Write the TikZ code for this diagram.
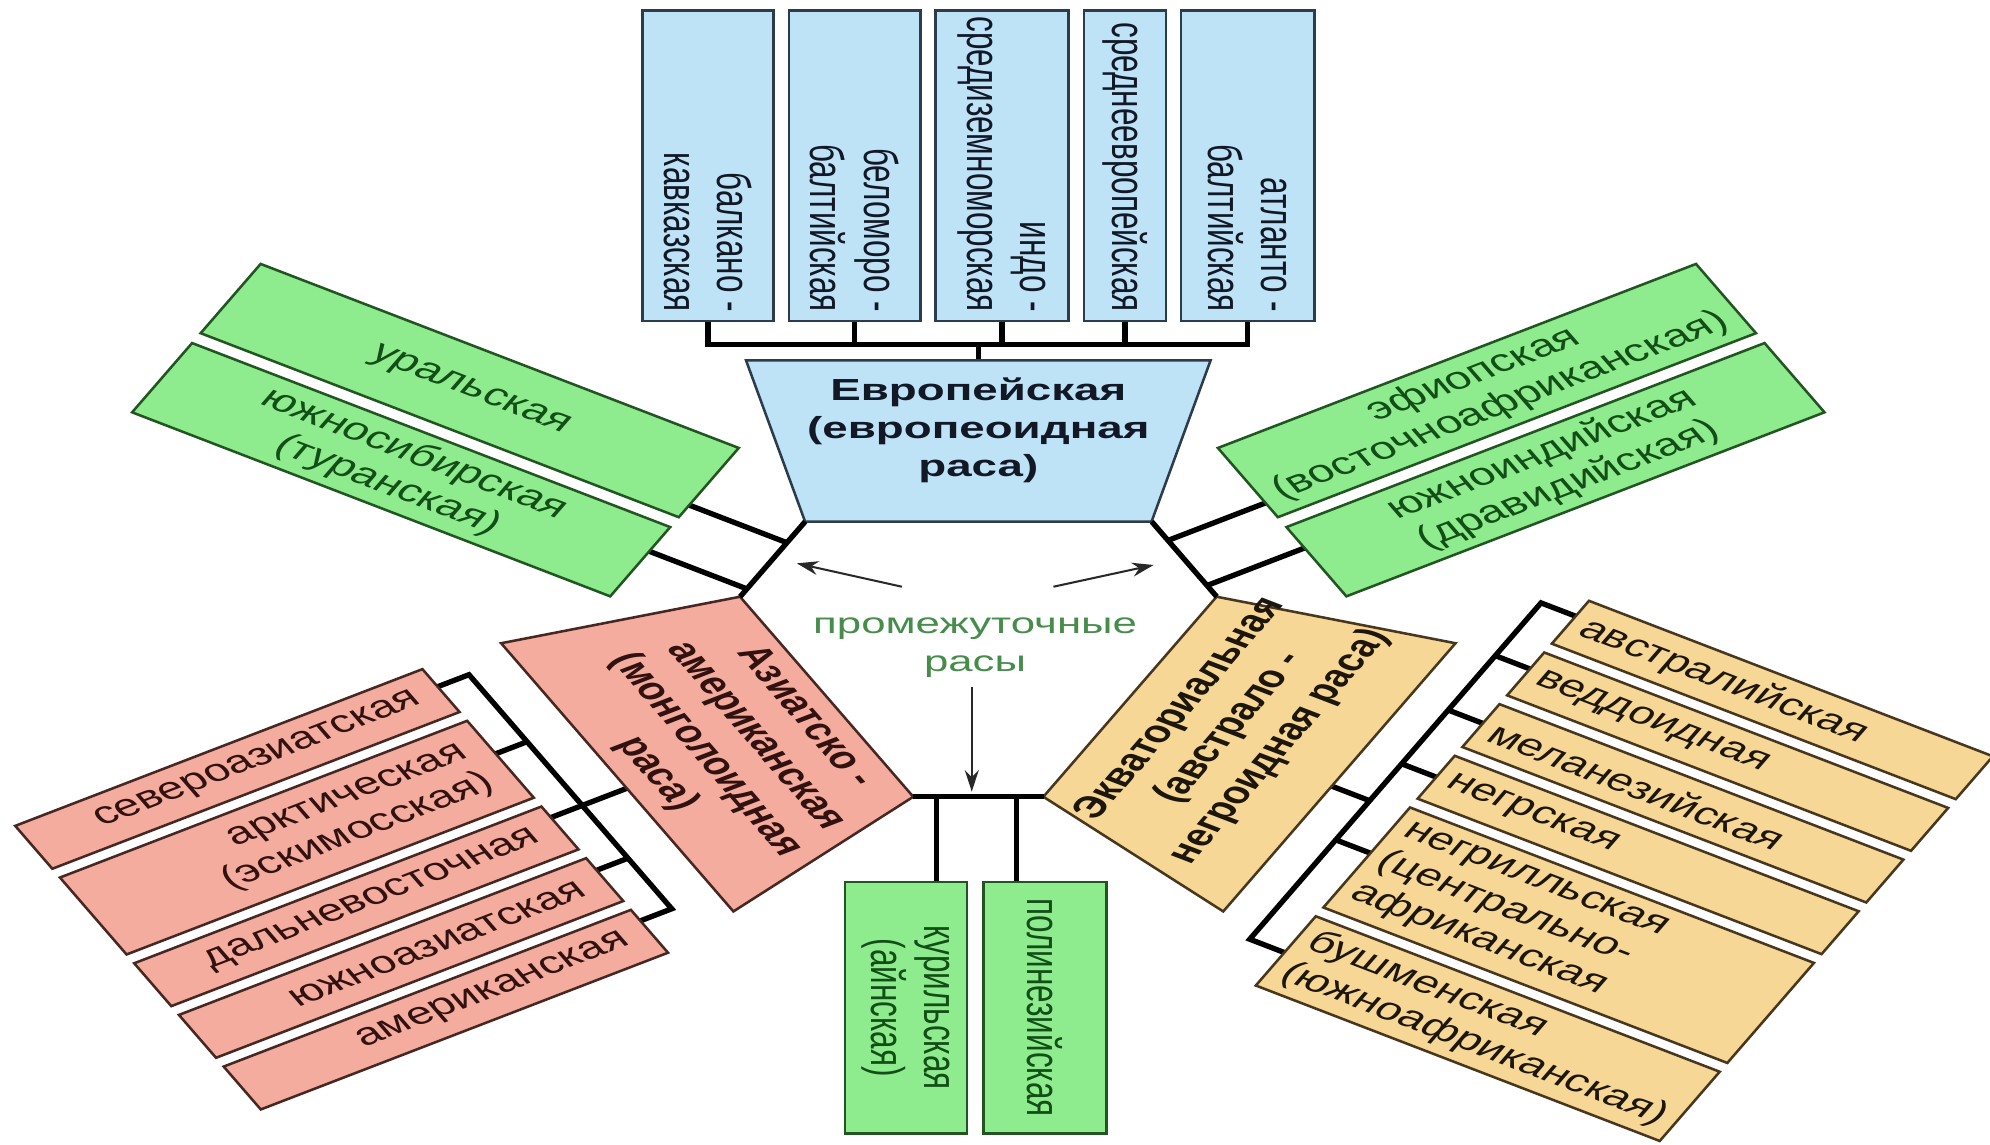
\documentclass[tikz,border=0pt]{standalone}
\usepackage{fontspec}
\setmainfont{Liberation Sans}
\usetikzlibrary{arrows.meta}
\definecolor{bfill}{RGB}{190,226,246}
\definecolor{bline}{RGB}{45,60,75}
\definecolor{btext}{RGB}{18,24,38}
\definecolor{gfill}{RGB}{142,236,142}
\definecolor{gline}{RGB}{35,85,35}
\definecolor{gtext}{RGB}{18,78,22}
\definecolor{pfill}{RGB}{244,172,158}
\definecolor{pline}{RGB}{70,40,35}
\definecolor{ptext}{RGB}{50,18,16}
\definecolor{yfill}{RGB}{247,215,150}
\definecolor{yline}{RGB}{70,55,30}
\definecolor{ytext}{RGB}{28,22,12}
\definecolor{lblgreen}{RGB}{70,140,75}
\definecolor{arrowgray}{RGB}{40,40,40}
\begin{document}
\begin{tikzpicture}[x=1pt,y=1pt,xscale=1.5,transform shape,
  conn/.style={line width=4.2pt,black,line join=miter},
  rbox/.style={draw,line width=2pt,inner sep=0pt},
  bluebox/.style={rbox,draw=bline,fill=bfill},
  greenbox/.style={rbox,draw=gline,fill=gfill,text=gtext,font=\fontsize{24.8}{28}\selectfont,align=center},
  pinkbox/.style={rbox,draw=pline,fill=pfill},
  yelbox/.style={rbox,draw=yline,fill=yfill},
  rtxt/.style={inner ysep=0pt,font=\fontsize{24.8}{28}\selectfont},
  btxt/.style={inner sep=0pt,font=\bfseries\fontsize{24}{30}\selectfont,align=center},
  arr/.style={line width=1.6pt,arrowgray,-{Stealth[length=17pt,width=11pt]}}]
\fill[white] (0,0) rectangle (1045.333,902);
\useasboundingbox (0,0) rectangle (1045.333,902);

% ---------- Europe ----------
\begin{scope}[shift={(513.9,399)}]
  \draw[conn] (0,217) -- (0,231.5);
  \draw[conn] (-142,252) -- (-142,231.5) -- (141.5,231.5) -- (141.5,252);
  \foreach \p in {-65,12.5,77} \draw[conn] (\p,231.5) -- (\p,252);
  \draw[rbox,draw=bline,fill=bfill] (-91,92) coordinate (EuIL) -- (91,92) coordinate (EuIR)
     -- (122,219) coordinate (EuOR) -- (-122,219) coordinate (EuOL) -- cycle;
  \node[btxt,text=btext] (EuT) at (0,164) {Европейская\\(европеоидная\\раса)};
  \node[bluebox,minimum width=244.6pt,minimum height=69pt,rotate=-90] (B1) at (-142,372.3) {};
  \node[bluebox,minimum width=244.6pt,minimum height=69pt,rotate=-90] (B2) at (-65,372.3) {};
  \node[bluebox,minimum width=244.6pt,minimum height=70pt,rotate=-90] (B3) at (12.5,372.3) {};
  \node[bluebox,minimum width=244.6pt,minimum height=43pt,rotate=-90] (B4) at (77,372.3) {};
  \node[bluebox,minimum width=244.6pt,minimum height=70pt,rotate=-90] (B5) at (141.5,372.3) {};
  \node[rtxt,text=btext,rotate=-90,anchor=east,align=right,inner xsep=8pt] (B1t) at (B1.east) {балкано -\\кавказская};
  \node[rtxt,text=btext,rotate=-90,anchor=east,align=right,inner xsep=8pt] (B2t) at (B2.east) {беломоро -\\балтийская};
  \node[rtxt,text=btext,rotate=-90,anchor=east,align=right,inner xsep=8pt] (B3t) at (B3.east) {индо -\\средиземноморская};
  \node[rtxt,text=btext,rotate=-90,anchor=east,align=right,inner xsep=8pt] (B4t) at (B4.east) {среднеевропейская};
  \node[rtxt,text=btext,rotate=-90,anchor=east,align=right,inner xsep=8pt] (B5t) at (B5.east) {атланто -\\балтийская};
\end{scope}

% ---------- Asian-American ----------
\begin{scope}[shift={(513.9,399)},rotate=120]
  \draw[conn] (109,267) -- (109,246) -- (-104,246) -- (-104,267);
  \foreach \p in {48,-58} \draw[conn] (\p,246) -- (\p,267);
  \draw[conn] (-10,217) -- (-10,267);
  \draw[rbox,draw=pline,fill=pfill] (-91,92) coordinate (AsIL) -- (91,92) coordinate (AsIR)
     -- (122,219) -- (-122,219) -- cycle;
  \node[btxt,text=ptext,rotate=180] (AsT) at (-8,155) {Азиатско -\\американская\\(монголоидная\\раса)};
  \node[pinkbox,minimum width=247pt,minimum height=39pt,rotate=-90] (P1) at (105.5,388.5) {};
  \node[pinkbox,minimum width=247pt,minimum height=70pt,rotate=-90] (P2) at (43,388.5) {};
  \node[pinkbox,minimum width=247pt,minimum height=39pt,rotate=-90] (P3) at (-19.5,388.5) {};
  \node[pinkbox,minimum width=247pt,minimum height=39pt,rotate=-90] (P4) at (-66.5,388.5) {};
  \node[pinkbox,minimum width=247pt,minimum height=39pt,rotate=-90] (P5) at (-113.5,388.5) {};
  \node[rtxt,text=ptext,rotate=-90,anchor=east,align=right,inner xsep=14pt] (P1t) at (P1.east) {североазиатская};
  \node[rtxt,text=ptext,rotate=-90,anchor=east,align=right,inner xsep=14pt] (P2t) at (P2.east) {арктическая\\(эскимосская)};
  \node[rtxt,text=ptext,rotate=-90,anchor=east,align=right,inner xsep=14pt] (P3t) at (P3.east) {дальневосточная};
  \node[rtxt,text=ptext,rotate=-90,anchor=east,align=right,inner xsep=14pt] (P4t) at (P4.east) {южноазиатская};
  \node[rtxt,text=ptext,rotate=-90,anchor=east,align=right,inner xsep=14pt] (P5t) at (P5.east) {американская};
\end{scope}

% ---------- Equatorial ----------
\begin{scope}[shift={(513.9,399)},rotate=-120]
  \draw[conn] (-172,265) -- (-172,242) -- (134,242) -- (134,265);
  \foreach \p in {-124,-74.5,-25.6,43.6} \draw[conn] (\p,242) -- (\p,265);
  \draw[conn] (8,217) -- (8,242);
  \draw[rbox,draw=yline,fill=yfill] (-91,92) coordinate (EqIL) -- (91,92) coordinate (EqIR)
     -- (122,219) -- (-122,219) -- cycle;
  \node[btxt,text=ytext,rotate=180] (EqT) at (-5,150) {Экваториальная\\(австрало -\\негроидная раса)};
  \node[yelbox,minimum width=245pt,minimum height=39pt,rotate=90] (Y1) at (-166.5,385.5) {};
  \node[yelbox,minimum width=245pt,minimum height=39pt,rotate=90] (Y2) at (-119.5,385.5) {};
  \node[yelbox,minimum width=245pt,minimum height=39pt,rotate=90] (Y3) at (-72.5,385.5) {};
  \node[yelbox,minimum width=245pt,minimum height=39pt,rotate=90] (Y4) at (-25.5,385.5) {};
  \node[yelbox,minimum width=245pt,minimum height=91pt,rotate=90] (Y5) at (47.5,385.5) {};
  \node[yelbox,minimum width=245pt,minimum height=63pt,rotate=90] (Y6) at (132.5,385.5) {};
  \node[rtxt,text=ytext,rotate=90,anchor=west,align=left,inner xsep=8pt] (Y1t) at (Y1.west) {австралийская};
  \node[rtxt,text=ytext,rotate=90,anchor=west,align=left,inner xsep=8pt] (Y2t) at (Y2.west) {веддоидная};
  \node[rtxt,text=ytext,rotate=90,anchor=west,align=left,inner xsep=8pt] (Y3t) at (Y3.west) {меланезийская};
  \node[rtxt,text=ytext,rotate=90,anchor=west,align=left,inner xsep=8pt] (Y4t) at (Y4.west) {негрская};
  \node[rtxt,text=ytext,rotate=90,anchor=west,align=left,inner xsep=8pt] (Y5t) at (Y5.west) {негрилльская\\(центрально-\\африканская};
  \node[rtxt,text=ytext,rotate=90,anchor=west,align=left,inner xsep=8pt] (Y6t) at (Y6.west) {бушменская\\(южноафриканская)};
\end{scope}

% ---------- links between the main races ----------
\draw[conn] (EuIL) -- (AsIR);
\draw[conn] (AsIL) -- (EqIR);
\draw[conn] (EqIL) -- (EuIR);

% ---------- Ural / South Siberian ----------
\begin{scope}[shift={(513.9,399)},rotate=60]
  \draw[conn] (15,124.8) -- (15,186);
  \draw[conn] (-27,124.8) -- (-27,186);
  \node[greenbox,minimum width=290pt,minimum height=63pt,rotate=-90] (U1) at (35.5,329) {уральская};
  \node[greenbox,minimum width=290pt,minimum height=63pt,rotate=-90] (U2) at (-36.5,329) {южносибирская\\(туранская)};
\end{scope}

% ---------- Ethiopian / South Indian ----------
\begin{scope}[shift={(513.9,399)},rotate=-60]
  \draw[conn] (-17,124.8) -- (-17,186);
  \draw[conn] (24,124.8) -- (24,186);
  \node[greenbox,minimum width=290pt,minimum height=63pt,rotate=90] (E1) at (-35.5,329) {эфиопская\\(восточноафриканская)};
  \node[greenbox,minimum width=290pt,minimum height=63pt,rotate=90] (E2) at (36.5,329) {южноиндийская\\(дравидийская)};
\end{scope}

% ---------- Kuril / Polynesian ----------
\begin{scope}[shift={(513.9,399)},rotate=180]
  \draw[conn] (22,124.8) -- (22,194);
  \draw[conn] (-20,124.8) -- (-20,194);
  \node[greenbox,minimum width=198pt,minimum height=64pt,rotate=90] (K1) at (38,291) {курильская\\(айнская)};
  \node[greenbox,minimum width=198pt,minimum height=64.8pt,rotate=90] (K2) at (-35,291) {полинезийская};
\end{scope}

% ---------- label and arrows ----------
\node[inner sep=0pt,font=\fontsize{23}{30}\selectfont,text=lblgreen,align=center] (mid) at (512.2,392) {промежуточные\\расы};
\coordinate (aLt) at (473.7,439.7); \coordinate (aLh) at (418.5,458.1);
\coordinate (aRt) at (553.3,439.7); \coordinate (aRh) at (605.9,456.8);
\coordinate (aDt) at (510.4,360.9); \coordinate (aDh) at (510.4,278.2);
\draw[arr] (aLt) -- (aLh);
\draw[arr] (aRt) -- (aRh);
\draw[arr] (aDt) -- (aDh);
\end{tikzpicture}
\end{document}
